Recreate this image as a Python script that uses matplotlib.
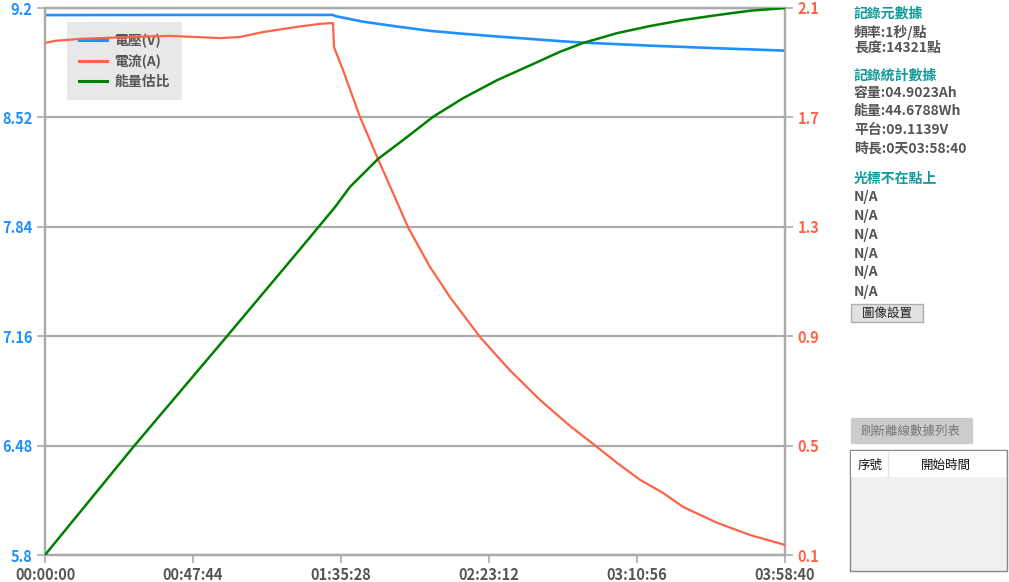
import matplotlib
matplotlib.use("Agg")
import matplotlib.pyplot as plt
from matplotlib.lines import Line2D
from matplotlib.patches import Rectangle
from matplotlib.ticker import FixedLocator, FuncFormatter

plt.rcParams['font.family'] = ['Noto Sans CJK TC', 'DejaVu Sans']

# ---- data (seconds from start) ----
volt_t = [0, 2800, 5573, 5612, 6154, 6812, 7450, 8089, 8747, 9385, 9966,
          10411, 11707, 13004, 14320]
volt_v = [9.156, 9.157, 9.157, 9.150, 9.115, 9.085, 9.058, 9.040, 9.023, 9.008,
          8.994, 8.985, 8.966, 8.950, 8.935]

curr_t = [0, 194, 677, 1645, 2419, 3386, 3773, 4219, 4876, 5322, 5573, 5592,
          5767, 6096, 6444, 6734, 7024, 7450, 7837, 8418, 8998, 9579, 10159,
          10682, 11069, 11514, 11959, 12346, 13004, 13642, 14320]
curr_a = [1.972, 1.980, 1.987, 1.994, 1.998, 1.990, 1.994, 2.012, 2.031, 2.042,
          2.045, 1.957, 1.873, 1.701, 1.548, 1.424, 1.299, 1.153, 1.043, 0.897,
          0.775, 0.667, 0.572, 0.495, 0.437, 0.375, 0.327, 0.276, 0.218, 0.173,
          0.137]

energy_t = [0, 1722, 3522, 4935, 5612, 5902, 6444, 7005, 7508, 8089, 8747,
            9385, 9966, 10411, 11069, 11707, 12346, 13004, 13642, 14320]
energy_pct = [0, 19.9, 40.0, 55.9, 63.6, 67.3, 72.4, 76.4, 80.1, 83.5, 86.8,
              89.5, 92.0, 93.6, 95.4, 96.7, 97.8, 98.7, 99.5, 100.0]

volt_ticks = [5.8, 6.48, 7.16, 7.84, 8.52, 9.2]
curr_ticks = [0.1, 0.5, 0.9, 1.3, 1.7, 2.1]
time_ticks = [0, 2864, 5728, 8592, 11456, 14320]
legend_labels = ['電壓(V)', '電流(A)', '能量估比']

info_lines = [
    ('記錄元數據', 'title'), ('頻率:1秒/點', 'text'), ('長度:14321點', 'text'),
    ('記錄統計數據', 'title'), ('容量:04.9023Ah', 'text'), ('能量:44.6788Wh', 'text'),
    ('平台:09.1139V', 'text'), ('時長:0天03:58:40', 'text'),
    ('光標不在點上', 'title'), ('N/A', 'text'), ('N/A', 'text'), ('N/A', 'text'),
    ('N/A', 'text'), ('N/A', 'text'), ('N/A', 'text'),
]
info_y = [14, 33, 48, 76, 93, 111, 130, 149, 179, 197, 216, 235, 254, 272, 292]

BLUE = '#1E90FF'
RED = '#FF6347'
GREEN = '#008000'
GRID = '#ABABAB'
GRAYTXT = '#555555'
TEAL = '#119999'

W, H = 1009, 582
fig = plt.figure(figsize=(W / 100, H / 100), dpi=100)
fig.patch.set_facecolor('white')

def fx(x):
    return x / W

def fy(y):
    return 1 - y / H

ax = fig.add_axes([fx(45), fy(555), 740 / W, 547 / H])
ax2 = ax.twinx()
ax3 = ax.twinx()

ax.set_xlim(0, 14320)
ax.set_ylim(5.8, 9.2)
ax2.set_ylim(0.1, 2.1)
ax3.set_ylim(0, 100)
ax3.set_yticks([])
for s in ax3.spines.values():
    s.set_visible(False)

ax.yaxis.set_major_locator(FixedLocator(volt_ticks))
ax.yaxis.set_major_formatter(FuncFormatter(lambda v, p: f'{v:g}'))
ax2.yaxis.set_major_locator(FixedLocator(curr_ticks))
ax2.yaxis.set_major_formatter(FuncFormatter(lambda v, p: f'{v:g}'))
ax.xaxis.set_major_locator(FixedLocator(time_ticks))

def hms(v, p):
    v = int(round(v))
    return f'{v // 3600:02d}:{(v % 3600) // 60:02d}:{v % 60:02d}'

ax.xaxis.set_major_formatter(FuncFormatter(hms))

ax.grid(axis='y', color=GRID, linewidth=1.6)
ax.set_axisbelow(True)
for a in (ax, ax2):
    for s in a.spines.values():
        s.set_color(GRID)
        s.set_linewidth(1.6)

ax.tick_params(axis='y', colors=GRID, labelcolor=BLUE, labelsize=10.5, length=6, width=1.2, pad=3)
ax2.tick_params(axis='y', colors=GRID, labelcolor=RED, labelsize=10.5, length=6, width=1.2, pad=3)
ax.tick_params(axis='x', colors=GRID, labelcolor=GRAYTXT, labelsize=10.5, length=6, width=1.2, pad=3)
for lab in ax.get_yticklabels() + ax2.get_yticklabels() + ax.get_xticklabels():
    lab.set_fontweight('bold')

ax.plot(volt_t, volt_v, color=BLUE, lw=1.9, zorder=3)
ax2.plot(curr_t, curr_a, color=RED, lw=1.6, zorder=3)
ax3.plot(energy_t, energy_pct, color=GREEN, lw=1.8, zorder=3)

handles = [Line2D([], [], color=BLUE, lw=2.2),
           Line2D([], [], color=RED, lw=2.2),
           Line2D([], [], color=GREEN, lw=2.2)]
leg = ax.legend(handles, legend_labels, loc='upper left',
                bbox_to_anchor=((67 - 45) / 740, (555 - 22) / 547),
                frameon=True, fancybox=False, facecolor='#E8E8E8', edgecolor='#E8E8E8',
                framealpha=1, prop={'size': 10, 'weight': 'bold'}, labelcolor=GRAYTXT,
                handlelength=2.0, handletextpad=0.55, borderpad=0.85, labelspacing=0.42,
                borderaxespad=0)
leg.get_frame().set_linewidth(0)
leg.set_zorder(1)

# ---- right-hand info panel ----
for (txt, kind), y in zip(info_lines, info_y):
    fig.text(fx(854), fy(y), txt, color=TEAL if kind == 'title' else GRAYTXT,
             fontsize=10, fontweight='bold', va='center', ha='left')

# button 圖像設置
fig.patches.append(Rectangle((fx(851), fy(322)), 72 / W, 18 / H, transform=fig.transFigure,
                             facecolor='#E1E1E1', edgecolor='#ADADAD', lw=1))
fig.text(fx(887), fy(313), '圖像設置', fontsize=9, color='#222222', ha='center', va='center')

# button 刷新離線數據列表
fig.patches.append(Rectangle((fx(851), fy(443)), 121 / W, 25 / H, transform=fig.transFigure,
                             facecolor='#CCCCCC', edgecolor='#CCCCCC', lw=1))
fig.text(fx(911), fy(431), '刷新離線數據列表', fontsize=9, color='#777777', ha='center', va='center')

# table
fig.patches.append(Rectangle((fx(850), fy(571)), 157 / W, 121 / H, transform=fig.transFigure,
                             facecolor='#F0F0F0', edgecolor='#888888', lw=1))
fig.patches.append(Rectangle((fx(851), fy(477)), 155 / W, 26 / H, transform=fig.transFigure,
                             facecolor='white', edgecolor='none'))
fig.lines.append(Line2D([fx(888), fx(888)], [fy(452), fy(477)], transform=fig.transFigure,
                        color='#E5E5E5', lw=1))
fig.text(fx(870), fy(465), '序號', fontsize=9, color='#111111', ha='center', va='center')
fig.text(fx(946), fy(465), '開始時間', fontsize=9, color='#111111', ha='center', va='center')

fig.savefig('out.png', dpi=100, facecolor='white')
